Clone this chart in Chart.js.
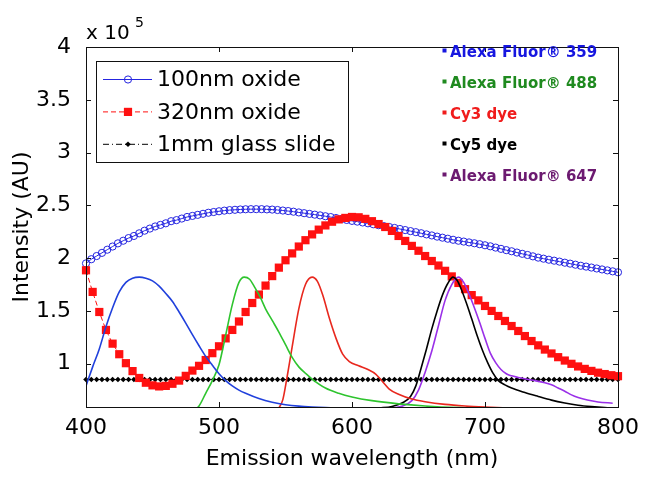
<!DOCTYPE html>
<html>
<head>
<meta charset="utf-8">
<title>Emission spectra</title>
<script src="https://cdn.jsdelivr.net/npm/chart.js@4.4.1/dist/chart.umd.min.js"></script>
<style>
  html, body { margin: 0; padding: 0; background: #fff; }
  #wrap { width: 649px; height: 480px; }
</style>
</head>
<body>
<div id="wrap"><canvas id="spectra" width="649" height="480"></canvas></div>
<script>
// Values. Intensity is in units of 1e5 (AU).
const X_TICKS = [400, 500, 600, 700, 800];
const Y_TICKS = [1, 1.5, 2, 2.5, 3, 3.5, 4];

// 100nm oxide and glass slide share a 4 nm wavelength grid
const NM_4 = [
  400, 404, 408, 412, 416, 420, 424, 428, 432, 436,
  440, 444, 448, 452, 456, 460, 464, 468, 472, 476,
  480, 484, 488, 492, 496, 500, 504, 508, 512, 516,
  520, 524, 528, 532, 536, 540, 544, 548, 552, 556,
  560, 564, 568, 572, 576, 580, 584, 588, 592, 596,
  600, 604, 608, 612, 616, 620, 624, 628, 632, 636,
  640, 644, 648, 652, 656, 660, 664, 668, 672, 676,
  680, 684, 688, 692, 696, 700, 704, 708, 712, 716,
  720, 724, 728, 732, 736, 740, 744, 748, 752, 756,
  760, 764, 768, 772, 776, 780, 784, 788, 792, 796,
  800
];
const OXIDE_100 = [
  1.95, 1.99, 2.02, 2.05, 2.08, 2.11, 2.14, 2.165, 2.19, 2.21,
  2.235, 2.26, 2.28, 2.30, 2.315, 2.33, 2.35, 2.36, 2.375, 2.39,
  2.40, 2.41, 2.42, 2.43, 2.437, 2.444, 2.45, 2.455, 2.458, 2.461,
  2.463, 2.464, 2.464, 2.464, 2.462, 2.46, 2.456, 2.451, 2.446, 2.44,
  2.433, 2.426, 2.419, 2.412, 2.405, 2.397, 2.389, 2.38, 2.371, 2.362,
  2.353, 2.346, 2.338, 2.33, 2.321, 2.312, 2.303, 2.295, 2.286, 2.276,
  2.266, 2.256, 2.246, 2.236, 2.225, 2.215, 2.204, 2.194, 2.184, 2.174,
  2.165, 2.157, 2.149, 2.141, 2.132, 2.122, 2.112, 2.1, 2.088, 2.076,
  2.065, 2.053, 2.041, 2.03, 2.017, 2.005, 1.995, 1.985, 1.976, 1.967,
  1.957, 1.948, 1.938, 1.928, 1.92, 1.911, 1.902, 1.893, 1.884, 1.875,
  1.866
];
const GLASS = [
  0.85, 0.85, 0.85, 0.85, 0.85, 0.85, 0.85, 0.85, 0.85, 0.85,
  0.85, 0.85, 0.85, 0.85, 0.85, 0.85, 0.85, 0.85, 0.85, 0.85,
  0.85, 0.85, 0.85, 0.85, 0.85, 0.85, 0.85, 0.85, 0.85, 0.85,
  0.85, 0.85, 0.85, 0.85, 0.85, 0.85, 0.85, 0.85, 0.85, 0.85,
  0.85, 0.85, 0.85, 0.85, 0.85, 0.85, 0.85, 0.85, 0.85, 0.85,
  0.85, 0.85, 0.85, 0.85, 0.85, 0.85, 0.85, 0.85, 0.85, 0.85,
  0.85, 0.85, 0.85, 0.85, 0.85, 0.85, 0.85, 0.85, 0.85, 0.85,
  0.85, 0.85, 0.85, 0.85, 0.85, 0.85, 0.85, 0.85, 0.85, 0.85,
  0.85, 0.85, 0.85, 0.85, 0.85, 0.85, 0.85, 0.85, 0.85, 0.85,
  0.85, 0.85, 0.85, 0.85, 0.85, 0.85, 0.85, 0.85, 0.85, 0.85,
  0.85
];

// 320nm oxide on a 5 nm grid
const NM_5 = [
  400, 405, 410, 415, 420, 425, 430, 435, 440, 445,
  450, 455, 460, 465, 470, 475, 480, 485, 490, 495,
  500, 505, 510, 515, 520, 525, 530, 535, 540, 545,
  550, 555, 560, 565, 570, 575, 580, 585, 590, 595,
  600, 605, 610, 615, 620, 625, 630, 635, 640, 645,
  650, 655, 660, 665, 670, 675, 680, 685, 690, 695,
  700, 705, 710, 715, 720, 725, 730, 735, 740, 745,
  750, 755, 760, 765, 770, 775, 780, 785, 790, 795,
  800
];
const OXIDE_320 = [
  1.885, 1.68, 1.49, 1.32, 1.19, 1.09, 1.005, 0.93, 0.865, 0.82,
  0.795, 0.785, 0.79, 0.81, 0.84, 0.885, 0.935, 0.98, 1.035, 1.10,
  1.165, 1.24, 1.32, 1.40, 1.49, 1.575, 1.655, 1.74, 1.83, 1.91,
  1.98, 2.045, 2.11, 2.17, 2.225, 2.27, 2.31, 2.345, 2.367, 2.381,
  2.39, 2.387, 2.372, 2.35, 2.323, 2.295, 2.258, 2.21, 2.163, 2.116,
  2.07, 2.02, 1.973, 1.93, 1.88, 1.827, 1.765, 1.706, 1.65, 1.6,
  1.547, 1.5, 1.452, 1.405, 1.357, 1.31, 1.262, 1.215, 1.174, 1.134,
  1.097, 1.062, 1.03, 0.999, 0.974, 0.951, 0.932, 0.915, 0.902, 0.891,
  0.882
];

// Dye emission curves (scaled onto the same axis)
const AF359_NM = [400, 405, 410, 415, 420, 425, 430, 435, 440, 445, 450, 455, 460, 465, 470, 475, 480, 485, 490, 495, 500, 505, 510, 515, 520, 530, 540, 550, 560, 570, 580, 600, 620];
const AF359 = [0.79, 0.97, 1.14, 1.35, 1.53, 1.68, 1.77, 1.81, 1.82, 1.81, 1.785, 1.735, 1.665, 1.59, 1.49, 1.385, 1.275, 1.17, 1.07, 0.985, 0.905, 0.84, 0.79, 0.75, 0.72, 0.67, 0.635, 0.612, 0.598, 0.59, 0.585, 0.58, 0.575];

const AF488_NM = [480, 485, 490, 495, 500, 505, 510, 515, 519, 523, 527, 531, 535, 540, 545, 550, 555, 560, 565, 570, 580, 590, 600, 615, 635, 655, 680, 700];
const AF488 = [0.55, 0.6, 0.72, 0.84, 0.99, 1.27, 1.56, 1.77, 1.82, 1.8, 1.72, 1.63, 1.52, 1.41, 1.3, 1.18, 1.06, 0.97, 0.91, 0.855, 0.77, 0.72, 0.685, 0.65, 0.62, 0.6, 0.585, 0.58];

const CY3_NM = [545, 548, 551, 555, 560, 565, 570, 574, 578, 583, 588, 593, 598, 605, 612, 618, 623, 628, 635, 645, 655, 670, 685, 700, 720];
const CY3 = [0.58, 0.66, 0.86, 1.16, 1.52, 1.75, 1.82, 1.78, 1.65, 1.43, 1.24, 1.09, 1.02, 0.98, 0.945, 0.9, 0.83, 0.76, 0.71, 0.665, 0.64, 0.615, 0.6, 0.59, 0.58];

const CY5_NM = [620, 630, 638, 644, 648, 652, 656, 660, 664, 668, 672, 676, 679, 682, 686, 690, 694, 698, 702, 706, 710, 715, 720, 730, 740, 750, 760, 770, 780, 790, 800];
const CY5 = [0.58, 0.595, 0.63, 0.69, 0.79, 0.96, 1.14, 1.33, 1.5, 1.65, 1.76, 1.82, 1.79, 1.71, 1.575, 1.425, 1.27, 1.13, 1.01, 0.91, 0.84, 0.8, 0.77, 0.727, 0.69, 0.655, 0.628, 0.607, 0.594, 0.585, 0.58];

const AF647_NM = [630, 638, 645, 650, 655, 660, 665, 670, 675, 680, 684, 688, 692, 696, 700, 704, 708, 712, 716, 720, 725, 735, 745, 750, 755, 760, 765, 770, 777, 785, 796];
const AF647 = [0.58, 0.6, 0.65, 0.75, 0.92, 1.12, 1.36, 1.6, 1.75, 1.82, 1.77, 1.66, 1.53, 1.39, 1.24, 1.1, 1.01, 0.945, 0.905, 0.885, 0.87, 0.845, 0.82, 0.8, 0.77, 0.74, 0.705, 0.68, 0.656, 0.638, 0.626];

const DYE_LABELS = ['Alexa Fluor® 359', 'Alexa Fluor® 488', 'Cy3 dye', 'Cy5 dye', 'Alexa Fluor® 647'];
const DYE_TEXT_COLORS = ['#1616e0', '#1f8a1f', '#f01c1c', '#000000', '#6c1a70'];

const FONT = 'DejaVu Sans, Liberation Sans, Arial, sans-serif';
const TICK_LEN = 5;

// helper: zip wavelength + value arrays into {x, y} points
function pts(xs, ys) {
  return xs.map((x, i) => ({ x: x, y: ys[i] }));
}

function dye(label, xs, ys, color) {
  return {
    label: label,
    data: pts(xs, ys),
    borderColor: color,
    borderWidth: 1.6,
    pointRadius: 0,
    cubicInterpolationMode: 'monotone',
    order: 1,
  };
}

// Frame with MATLAB-style inward ticks on all four sides
const frameTicks = {
  id: 'frameTicks',
  afterDatasetsDraw(chart) {
    const { ctx, chartArea: a, scales: { x, y } } = chart;
    ctx.save();
    ctx.strokeStyle = '#111';
    ctx.lineWidth = 1;
    ctx.strokeRect(a.left + 0.5, a.top + 0.5, a.right - a.left, a.bottom - a.top);
    ctx.beginPath();
    X_TICKS.forEach(v => {
      const px = Math.round(x.getPixelForValue(v)) + 0.5;
      ctx.moveTo(px, a.bottom); ctx.lineTo(px, a.bottom - TICK_LEN);
      ctx.moveTo(px, a.top); ctx.lineTo(px, a.top + TICK_LEN);
    });
    Y_TICKS.forEach(v => {
      const py = Math.round(y.getPixelForValue(v)) + 0.5;
      ctx.moveTo(a.left, py); ctx.lineTo(a.left + TICK_LEN, py);
      ctx.moveTo(a.right, py); ctx.lineTo(a.right - TICK_LEN, py);
    });
    ctx.stroke();
    ctx.restore();
  }
};

// Boxed legend for the three substrates, dye names on the right, x10^5 multiplier
const annotations = {
  id: 'annotations',
  afterDraw(chart) {
    const { ctx, chartArea: a } = chart;
    const sets = chart.data.datasets;
    ctx.save();

    // exponent label above the y axis
    ctx.fillStyle = '#000';
    ctx.textBaseline = 'alphabetic';
    ctx.textAlign = 'left';
    ctx.font = '20px ' + FONT;
    ctx.fillText('x 10', a.left, 39);
    ctx.font = '14px ' + FONT;
    ctx.fillText('5', a.left + 49, 27);

    // legend box
    const bx = a.left + 10, by = a.top + 14, bw = 252, bh = 101;
    ctx.fillStyle = '#fff';
    ctx.fillRect(bx, by, bw, bh);
    ctx.strokeStyle = '#111';
    ctx.lineWidth = 1;
    ctx.strokeRect(bx + 0.5, by + 0.5, bw, bh);

    ctx.font = '22px ' + FONT;
    ctx.textBaseline = 'middle';
    for (let i = 0; i < 3; i++) {
      const ds = sets[i];
      const cy = by + 18.5 + i * 32.4;
      ctx.strokeStyle = ds.borderColor;
      ctx.lineWidth = 1;
      ctx.setLineDash(ds.borderDash || []);
      ctx.beginPath();
      ctx.moveTo(bx + 7, cy);
      ctx.lineTo(bx + 56, cy);
      ctx.stroke();
      ctx.setLineDash([]);
      ctx.fillStyle = ds.pointBackgroundColor;
      ctx.strokeStyle = ds.pointBorderColor;
      Chart.helpers.drawPoint(ctx, {
        pointStyle: ds.pointStyle,
        radius: ds.pointRadius,
        borderWidth: ds.pointBorderWidth,
        rotation: 0,
      }, bx + 32, cy);
      ctx.fillStyle = '#000';
      ctx.fillText(ds.label, bx + 61, cy + 1);
    }

    // dye names, top right
    ctx.font = 'bold 15px ' + FONT;
    DYE_LABELS.forEach((name, i) => {
      const cy = 52 + i * 31;
      ctx.fillStyle = DYE_TEXT_COLORS[i];
      ctx.fillRect(442.5, cy - 3.5, 4, 4);
      ctx.fillText(name, 450, cy + 1);
    });

    ctx.restore();
  }
};

new Chart(document.getElementById('spectra'), {
  type: 'line',
  data: {
    datasets: [
      {
        label: '100nm oxide',
        data: pts(NM_4, OXIDE_100),
        borderColor: '#2525e0',
        borderWidth: 1,
        pointStyle: 'circle',
        pointRadius: 3.6,
        pointBorderWidth: 1,
        pointBorderColor: '#2525e0',
        pointBackgroundColor: 'rgba(255,255,255,0)',
        clip: { left: 6, right: 6, top: 0, bottom: 0 },
        order: 3,
      },
      {
        label: '320nm oxide',
        data: pts(NM_5, OXIDE_320),
        borderColor: '#ff1010',
        borderWidth: 1,
        borderDash: [5, 3],
        pointStyle: 'rect',
        pointRadius: 5.8,
        pointBorderWidth: 0,
        pointBorderColor: '#ff1010',
        pointBackgroundColor: '#ff1010',
        clip: { left: 6, right: 6, top: 0, bottom: 0 },
        order: 2,
      },
      {
        label: '1mm glass slide',
        data: pts(NM_4, GLASS),
        borderColor: '#000',
        borderWidth: 1,
        borderDash: [6, 3, 1, 3],
        pointStyle: 'rectRot',
        pointRadius: 2.8,
        pointBorderWidth: 0,
        pointBorderColor: '#000',
        pointBackgroundColor: '#000',
        clip: { left: 4, right: 4, top: 0, bottom: 0 },
        order: 4,
      },
      dye('Alexa Fluor 359', AF359_NM, AF359, '#2040dc'),
      dye('Alexa Fluor 488', AF488_NM, AF488, '#2ec42e'),
      dye('Cy3 dye', CY3_NM, CY3, '#e8281e'),
      dye('Cy5 dye', CY5_NM, CY5, '#000000'),
      dye('Alexa Fluor 647', AF647_NM, AF647, '#9a30e8'),
    ]
  },
  options: {
    responsive: false,
    animation: false,
    devicePixelRatio: 1,
    layout: { padding: { top: 47, right: 31, left: 0, bottom: 0 } },
    plugins: {
      legend: { display: false },
      tooltip: { enabled: false },
    },
    scales: {
      x: {
        type: 'linear',
        min: 400,
        max: 800,
        afterBuildTicks: s => { s.ticks = X_TICKS.map(v => ({ value: v })); },
        afterFit: s => { s.height = 73; },
        grid: { display: false },
        border: { display: false },
        ticks: {
          color: '#000',
          padding: 0,
          maxRotation: 0,
          font: { family: FONT, size: 22 },
          callback: v => String(v),
        },
        title: {
          display: true,
          text: 'Emission wavelength (nm)',
          color: '#000',
          padding: { top: 0, bottom: 8 },
          font: { family: FONT, size: 22 },
        }
      },
      y: {
        type: 'linear',
        min: 0.59,
        max: 4,
        afterBuildTicks: s => { s.ticks = Y_TICKS.map(v => ({ value: v })); },
        afterFit: s => { s.width = 86; },
        grid: { display: false },
        border: { display: false },
        ticks: {
          color: '#000',
          padding: 7,
          font: { family: FONT, size: 22 },
          callback: v => String(v),
        },
        title: {
          display: true,
          text: 'Intensity (AU)',
          color: '#000',
          padding: { top: 9, bottom: 0 },
          font: { family: FONT, size: 22 },
        }
      }
    }
  },
  plugins: [frameTicks, annotations]
});
</script>
</body>
</html>
